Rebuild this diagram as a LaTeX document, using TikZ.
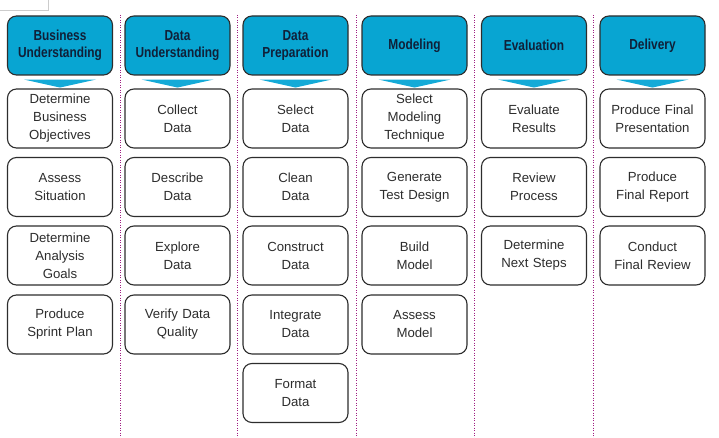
\documentclass[tikz,border=0pt]{standalone}
\usepackage{fontspec}
\setmainfont{Liberation Sans}
\newfontfamily\headfont[FakeStretch=0.82]{Liberation Sans}
\usetikzlibrary{calc}
\definecolor{headfill}{RGB}{8,165,210}
\definecolor{headtext}{RGB}{16,32,56}
\definecolor{boxline}{RGB}{45,45,45}
\definecolor{tasktext}{RGB}{45,45,45}
\definecolor{sepcol}{RGB}{160,30,130}
\definecolor{arrowcol}{RGB}{20,170,215}
\tikzset{
  headbox/.style={draw=boxline, line width=1.1pt, fill=headfill, rounded corners=9pt,
    minimum width=105pt, minimum height=59pt, text width=100pt, align=center,
    font=\headfont\fontsize{14.5}{17}\selectfont\bfseries, text=headtext, inner sep=0pt},
  taskbox/.style={draw=boxline, line width=1.1pt, fill=white, rounded corners=9pt,
    minimum width=105pt, minimum height=59pt, text width=100pt, align=center,
    font=\fontsize{13.2}{18}\selectfont, text=tasktext, inner sep=0pt},
  chevron/.style={fill=arrowcol, draw=none},
  sepline/.style={sepcol, line width=0.9pt, dash pattern=on 0.9pt off 1.6pt},
  framebit/.style={draw=black!20, line width=0.8pt}
}
\begin{document}
\begin{tikzpicture}[x=1pt, y=-1pt]
\useasboundingbox (0,0) rectangle (719,438);
\draw[framebit] (48,0) -- (48,10) -- (0,10);
% separators
\foreach \sx in {120,237,356,474,593}{
  \draw[sepline] (\sx,15) -- (\sx,438);
}
% headers
\node[headbox] (h1) at (60,45.5) {Business\\Understanding};
\node[headbox] (h2) at (177.5,45.5) {Data\\Understanding};
\node[headbox] (h3) at (295.5,45.5) {Data\\Preparation};
\node[headbox] (h4) at (414.5,45.5) {Modeling};
\node[headbox] (h5) at (534,45.5) {Evaluation};
\node[headbox] (h6) at (652.5,45.5) {Delivery};
% chevrons
\foreach \h in {h1,h2,h3,h4,h5,h6}{
  \fill[chevron] ($(\h.south)+(-36,4)$) -- ($(\h.south)+(36,4)$) -- ($(\h.south)+(0,12)$) -- cycle;
}
% column 1
\node[taskbox] (a1) at (60,118.5) {Determine\\Business\\Objectives};
\node[taskbox] (a2) at (60,187) {Assess\\Situation};
\node[taskbox] (a3) at (60,255.5) {Determine\\Analysis\\Goals};
\node[taskbox] (a4) at (60,324.5) {Produce\\Sprint Plan};
% column 2
\node[taskbox] (b1) at (177.5,118.5) {Collect\\Data};
\node[taskbox] (b2) at (177.5,187) {Describe\\Data};
\node[taskbox] (b3) at (177.5,255.5) {Explore\\Data};
\node[taskbox] (b4) at (177.5,324.5) {Verify Data\\Quality};
% column 3
\node[taskbox] (c1) at (295.5,118.5) {Select\\Data};
\node[taskbox] (c2) at (295.5,187) {Clean\\Data};
\node[taskbox] (c3) at (295.5,255.5) {Construct\\Data};
\node[taskbox] (c4) at (295.5,324.5) {Integrate\\Data};
\node[taskbox] (c5) at (295.5,393) {Format\\Data};
% column 4
\node[taskbox] (d1) at (414.5,118.5) {Select\\Modeling\\Technique};
\node[taskbox] (d2) at (414.5,187) {Generate\\Test Design};
\node[taskbox] (d3) at (414.5,255.5) {Build\\Model};
\node[taskbox] (d4) at (414.5,324.5) {Assess\\Model};
% column 5
\node[taskbox] (e1) at (534,118.5) {Evaluate\\Results};
\node[taskbox] (e2) at (534,187) {Review\\Process};
\node[taskbox] (e3) at (534,255.5) {Determine\\Next Steps};
% column 6
\node[taskbox] (f1) at (652.5,118.5) {Produce Final\\Presentation};
\node[taskbox] (f2) at (652.5,187) {Produce\\Final Report};
\node[taskbox] (f3) at (652.5,255.5) {Conduct\\Final Review};
\end{tikzpicture}
\end{document}
